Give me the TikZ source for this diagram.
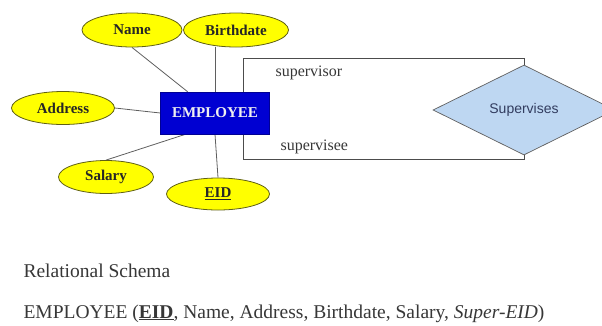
\documentclass[tikz,border=0pt]{standalone}
\usepackage{fontspec}
\setmainfont{Liberation Serif}
\newfontfamily\relfont{Liberation Sans}
\usetikzlibrary{
    positioning,
    calc,
    shapes.geometric,
    backgrounds
}
\definecolor{attrYellow}{RGB}{255, 255, 0}
\definecolor{attrEdge}{RGB}{95, 95, 20}
\definecolor{entityBlue}{RGB}{0, 0, 210}
\definecolor{relBlue}{RGB}{190, 215, 242}
\definecolor{lineGray}{RGB}{95, 95, 95}
\definecolor{textGray}{RGB}{55, 55, 55}
\definecolor{relText}{RGB}{50, 60, 95}

\tikzset{
    attr/.style={ellipse, draw=attrEdge, fill=attrYellow, line width=0.8pt, inner sep=0pt,
        font=\fontsize{15}{17}\selectfont\bfseries, text=black!85},
    entity/.style={rectangle, draw=entityBlue!70!black, fill=entityBlue, line width=0.6pt,
        minimum width=109, minimum height=42, inner sep=0pt,
        font=\fontsize{15}{17}\selectfont\bfseries, text=white!88!gray},
    relship/.style={diamond, draw=lineGray, fill=relBlue, line width=0.7pt, inner sep=0pt,
        minimum width=182, minimum height=90, font=\relfont\fontsize{14}{16}\selectfont, text=relText},
    link/.style={draw=lineGray, line width=0.8pt},
    role/.style={anchor=west, font=\fontsize{16}{18}\selectfont, text=textGray},
    schema/.style={anchor=base west, font=\fontsize{19.5}{22}\selectfont, text=textGray}
}

\begin{document}
\begin{tikzpicture}[x=1pt, y=-1pt]
    \path[use as bounding box, clip] (0,0) rectangle (602,325);

    % Entity and its attributes
    \node[entity] (emp) at (215,113) {EMPLOYEE};
    \node[attr, minimum width=100, minimum height=34] (name) at (132,30) {Name};
    \node[attr, minimum width=105, minimum height=34] (bdate) at (236,30) {Birthdate};
    \node[attr, minimum width=103, minimum height=33] (addr) at (63,108) {Address};
    \node[attr, minimum width=95, minimum height=33] (salary) at (106,177) {Salary};
    \node[attr, minimum width=103, minimum height=32] (eid) at (218,194) {\underline{EID}};

    % Relationship
    \node[relship] (rel) at (524,110) {Supervises};
    \node[role] (supvr) at (272,73) {supervisor};
    \node[role] (supee) at (277,147) {supervisee};

    % Corners of the recursive link
    \coordinate (loopTL) at (243,58);
    \coordinate (loopBL) at (243,159);

    \begin{pgfonlayer}{background}
        % Attribute lines
        \draw[link] (name.south) -- ($(emp.north west)!0.25!(emp.north east)$);
        \draw[link] (emp.north) -- (emp.north |- bdate.south);
        \draw[link] (addr.east) -- (emp.west);
        \draw[link] (salary.north) -- ($(emp.south west)!0.23!(emp.south east)$);
        \draw[link] (emp.south) -- (eid.north);

        % Supervisor / supervisee roles
        \draw[link, draw=black!70] (emp.north -| loopTL) -- (loopTL) -| (rel.north);
        \draw[link, draw=black!70] (emp.south -| loopBL) -- (loopBL) -| (rel.south);
    \end{pgfonlayer}

    % Relational schema
    \node[schema] (title) at (20,277) {Relational Schema};
    \node[schema] (table) at (20,318) {EMPLOYEE (\underline{\textbf{EID}}, Name, Address, Birthdate, Salary, \textit{Super-EID})};
\end{tikzpicture}
\end{document}
